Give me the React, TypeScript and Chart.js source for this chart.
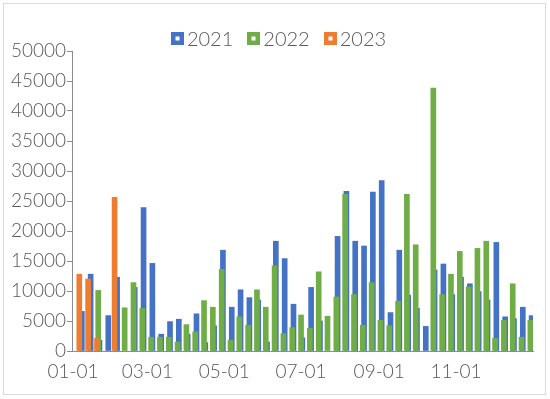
import React, { useEffect, useRef } from "react";
import { Chart, registerables } from "chart.js";

Chart.register(...registerables);

// ---------- DATA ----------
const seriesNames = ["2021", "2022", "2023"];

const dates2021 = [
  "01-08", "01-15", "01-22", "01-29", "02-05", "02-12", "02-19", "02-26",
  "03-05", "03-12", "03-19", "03-26", "04-02", "04-09", "04-16", "04-23", "04-30",
  "05-07", "05-14", "05-21", "05-28", "06-04", "06-11", "06-18", "06-25",
  "07-02", "07-09", "07-16", "07-23", "07-30", "08-06", "08-13", "08-20", "08-27",
  "09-03", "09-10", "09-17", "09-24", "10-01", "10-08", "10-15", "10-22", "10-29",
  "11-05", "11-12", "11-19", "11-26", "12-03", "12-10", "12-17", "12-24", "12-31",
];
const values2021: (number | null)[] = [
  6600, 12800, 1800, 5900, 12300, null, 10600, 23900,
  14600, 2800, 4900, 5300, 2800, 6200, 1400, 4200, 16800,
  7300, 10200, 8900, 8500, 1500, 18300, 15400, 7800,
  2200, 10600, 5000, null, 19100, 26600, 18300, 17500, 26500,
  28400, 6400, 16800, 9300, 7100, 4100, 13500, 14500, 9400,
  12300, 11200, 9900, 8500, 18100, 5700, 5400, 7300, 5900,
];

const dates2022 = [
  "01-07", "01-14", "01-21", "01-28", "02-04", "02-11", "02-18", "02-25",
  "03-04", "03-11", "03-18", "03-25", "04-01", "04-08", "04-15", "04-22", "04-29",
  "05-06", "05-13", "05-20", "05-27", "06-03", "06-10", "06-17", "06-24",
  "07-01", "07-08", "07-15", "07-22", "07-29", "08-05", "08-12", "08-19", "08-26",
  "09-02", "09-09", "09-16", "09-23", "09-30", "10-07", "10-14", "10-21", "10-28",
  "11-04", "11-11", "11-18", "11-25", "12-02", "12-09", "12-16", "12-23", "12-30",
];
const values2022: (number | null)[] = [
  null, null, 10100, null, null, 7200, 11400, 7100,
  2300, 2300, 2300, 1500, 4400, 3200, 8400, 7300, 13600,
  1800, 5700, 4300, 10200, 7300, 14200, 2900, 3900,
  6000, 3800, 13200, 5800, 9000, 26100, 9400, 4300, 11400,
  5100, 4200, 8300, 26100, 17700, null, 43800, 9400, 12800,
  16600, 10700, 17100, 18300, 2100, 5100, 11200, 2300, 5100,
];

const dates2023 = ["01-06", "01-13", "01-20", "02-03"];
const values2023: (number | null)[] = [12800, 12000, 2100, 25600];

const xTickLabels = ["01-01", "03-01", "05-01", "07-01", "09-01", "11-01"];
const yMax = 50000;
const yStep = 5000;

const colors = ["#4472C4", "#70AD47", "#ED7D31"];

// ---------- helpers ----------
const MONTH_START = [0, 31, 59, 90, 120, 151, 181, 212, 243, 273, 304, 334];
const dayOfYear = (md: string) => {
  const [m, d] = md.split("-").map(Number);
  return MONTH_START[m - 1] + d - 1;
};
const toPoints = (dates: string[], vals: (number | null)[]) =>
  dates
    .map((d, i) => ({ x: dayOfYear(d), y: vals[i] }))
    .filter((p) => p.y !== null);

const FONT = "Lato, 'Noto Sans', sans-serif";
const WEIGHT = "300";
const TEXT = "#595959";
const AXIS = "#8c8c8c";

const legendPlugin = {
  id: "excelLegend",
  afterDraw(chart: any) {
    const ctx = chart.ctx as CanvasRenderingContext2D;
    ctx.save();
    ctx.font = `${WEIGHT} 20px ${FONT}`;
    const items = chart.data.datasets.map((ds: any) => ({
      label: ds.label,
      color: ds.backgroundColor,
      w: ctx.measureText(ds.label).width,
    }));
    const box = 13;
    const gapText = 3;
    const gapItem = 14;
    const total =
      items.reduce((s: number, it: any) => s + box + gapText + it.w, 0) +
      gapItem * (items.length - 1);
    let x = 278.5 - total / 2;
    const cy = 38.5;
    items.forEach((it: any) => {
      ctx.fillStyle = it.color;
      ctx.fillRect(Math.round(x), Math.round(cy - box / 2), box, box);
      ctx.fillStyle = "#ffffff";
      ctx.fillRect(Math.round(x) + 4.5, Math.round(cy - box / 2) + 4.5, 4, 4);
      ctx.fillStyle = TEXT;
      ctx.textBaseline = "middle";
      ctx.textAlign = "left";
      ctx.fillText(it.label, x + box + gapText, cy + 1);
      x += box + gapText + it.w + gapItem;
    });
    ctx.restore();
  },
};

export default function App() {
  const canvasRef = useRef<HTMLCanvasElement | null>(null);

  useEffect(() => {
    if (!canvasRef.current) return;
    const series = [
      { dates: dates2021, vals: values2021, order: 3 },
      { dates: dates2022, vals: values2022, order: 2 },
      { dates: dates2023, vals: values2023, order: 1 },
    ];
    const chart = new Chart(canvasRef.current, {
      type: "bar",
      data: {
        datasets: series.map((s, i) => ({
          label: seriesNames[i],
          data: toPoints(s.dates, s.vals) as any,
          backgroundColor: colors[i],
          borderWidth: 0,
          barThickness: 5,
          grouped: false,
          order: s.order,
        })),
      },
      options: {
        animation: false,
        responsive: false,
        devicePixelRatio: 1,
        layout: { padding: { top: 51, right: 17, bottom: 0, left: 0 } },
        plugins: {
          legend: { display: false },
          tooltip: { enabled: false },
        },
        scales: {
          x: {
            type: "linear",
            min: -0.8,
            max: 365.1,
            offset: false,
            grid: { display: false, drawTicks: false, offset: false },
            border: { display: true, color: AXIS, width: 1 },
            afterBuildTicks: (scale: any) => {
              scale.ticks = xTickLabels.map((l) => ({ value: dayOfYear(l), label: l }));
            },
            afterFit: (scale: any) => {
              scale.height = 48;
            },
            ticks: {
              autoSkip: false,
              maxRotation: 0,
              padding: 9,
              color: TEXT,
              font: { family: FONT, size: 19, weight: WEIGHT as any },
              callback: (v: any) => {
                const idx = xTickLabels.findIndex((l) => dayOfYear(l) === v);
                return idx >= 0 ? xTickLabels[idx] : "";
              },
            },
          },
          y: {
            min: 0,
            max: yMax,
            grid: {
              display: true,
              drawOnChartArea: false,
              drawTicks: true,
              tickLength: 5,
              color: AXIS,
            },
            border: { display: true, color: AXIS, width: 1 },
            afterFit: (scale: any) => {
              scale.width = 72;
            },
            ticks: {
              stepSize: yStep,
              padding: 1,
              color: TEXT,
              font: { family: FONT, size: 19, weight: WEIGHT as any },
              callback: (v: any) => String(v),
            },
          },
        },
      },
      plugins: [legendPlugin],
    });
    return () => chart.destroy();
  }, []);

  return (
    <div
      style={{
        position: "fixed",
        left: 0,
        top: 0,
        width: 550,
        height: 399,
        background: "#ffffff",
      }}
    >
      <div
        style={{
          position: "absolute",
          left: 3,
          top: 3,
          width: 543,
          height: 392,
          boxSizing: "border-box",
          border: "1px solid #d9d9d9",
        }}
      />
      <canvas
        ref={canvasRef}
        width={550}
        height={399}
        style={{ position: "absolute", left: 0, top: 0, width: 550, height: 399 }}
      />
    </div>
  );
}
